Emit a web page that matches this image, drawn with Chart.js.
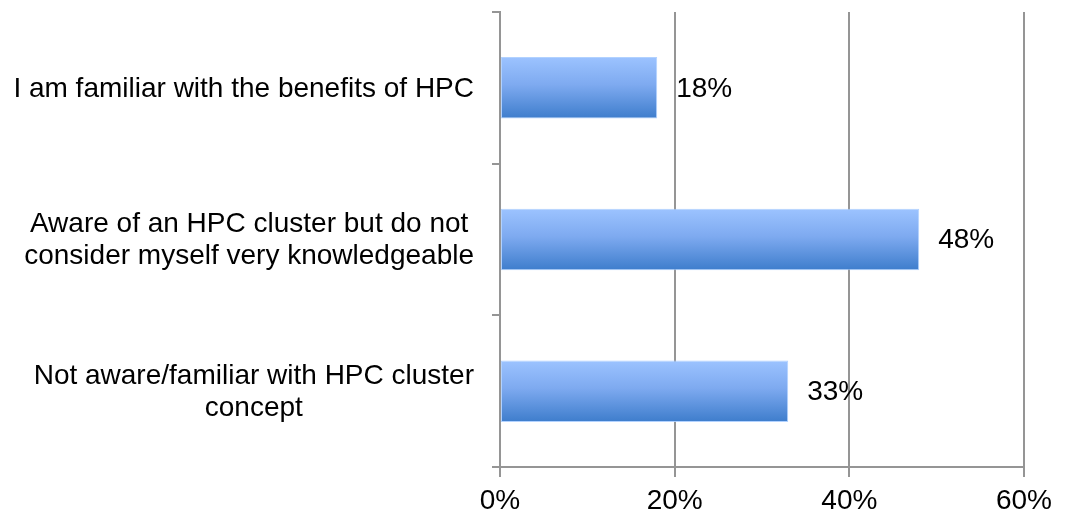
<!DOCTYPE html>
<html>
<head>
<meta charset="utf-8">
<style>
  html, body { margin: 0; padding: 0; background: #fff; }
  #wrap { width: 1066px; height: 515px; position: relative; }
</style>
<script src="https://cdn.jsdelivr.net/npm/chart.js@4/dist/chart.umd.min.js"></script>
</head>
<body>
<div id="wrap"><canvas id="c" width="1066" height="515"></canvas></div>
<script>
const categories = [
  "I am familiar with the benefits of HPC",
  ["Aware of an HPC cluster but do not", "consider myself very knowledgeable"],
  ["Not aware/familiar with HPC cluster", "concept"]
];
const values = [18, 48, 33];
const xTicks = [0, 20, 40, 60];

const FONT = "'Liberation Sans', Arial, sans-serif";
const GRID = '#959595';

function barGradient(ctx) {
  const chart = ctx.chart;
  const ys = chart.scales && chart.scales.y;
  if (!chart.chartArea || !ys || ctx.dataIndex === undefined) return '#6a9ee8';
  const c = ys.getPixelForValue(ctx.dataIndex);
  const half = (ys.height / categories.length) * 0.405 / 2;
  const g = chart.ctx.createLinearGradient(0, c - half, 0, c + half);
  g.addColorStop(0, '#9cc3ff');
  g.addColorStop(0.45, '#7eaaf0');
  g.addColorStop(1, '#3e7dcc');
  return g;
}

// Value labels to the right of each bar
const valueLabels = {
  id: 'valueLabels',
  afterDatasetsDraw(chart) {
    const ctx = chart.ctx;
    const meta = chart.getDatasetMeta(0);
    ctx.save();
    ctx.font = '28px ' + FONT;
    ctx.fillStyle = '#000';
    ctx.textAlign = 'left';
    ctx.textBaseline = 'middle';
    meta.data.forEach((el, i) => {
      ctx.fillText(values[i] + '%', el.x + 19, el.y + 1);
    });
    ctx.restore();
  }
};

// Category labels: each block centred on its own widest line, right edge at a fixed gap from the axis
const categoryLabels = {
  id: 'categoryLabels',
  afterDraw(chart) {
    const ctx = chart.ctx;
    const ys = chart.scales.y;
    const lineH = 32;
    const rightEdge = ys.right - 26;
    ctx.save();
    ctx.font = '28px ' + FONT;
    ctx.fillStyle = '#000';
    ctx.textAlign = 'center';
    ctx.textBaseline = 'middle';
    categories.forEach((lab, i) => {
      const lines = Array.isArray(lab) ? lab : [lab];
      const widest = Math.max(...lines.map(l => ctx.measureText(l).width));
      const cx = rightEdge - widest / 2;
      const cy = ys.getPixelForValue(i) + 1;
      const top = cy - (lines.length - 1) * lineH / 2;
      lines.forEach((l, k) => ctx.fillText(l, cx, top + k * lineH));
    });
    ctx.restore();
  }
};

new Chart(document.getElementById('c'), {
  type: 'bar',
  data: {
    labels: categories,
    datasets: [{
      data: values,
      backgroundColor: barGradient,
      borderColor: 'rgba(170,205,255,0.9)',
      borderWidth: 1,
      borderSkipped: false,
      categoryPercentage: 1,
      barPercentage: 0.405
    }]
  },
  options: {
    indexAxis: 'y',
    responsive: false,
    animation: false,
    devicePixelRatio: 1,
    layout: { padding: { top: 12, right: 42, left: 0, bottom: 0 } },
    plugins: { legend: { display: false }, tooltip: { enabled: false } },
    scales: {
      x: {
        min: 0, max: 60,
        afterBuildTicks(scale) { scale.ticks = xTicks.map(v => ({ value: v })); },
        afterFit(scale) { scale.height = 48; scale.paddingLeft = 0; scale.paddingRight = 0; },
        grid: { color: GRID, lineWidth: 2, drawOnChartArea: true, drawTicks: true, tickLength: 10 },
        border: { display: true, color: GRID, width: 2 },
        ticks: {
          color: '#000',
          font: { family: FONT, size: 28 },
          padding: 7,
          maxRotation: 0,
          callback: v => v + '%'
        }
      },
      y: {
        afterFit(scale) { scale.width = 500; scale.paddingTop = 0; scale.paddingBottom = 0; },
        grid: { color: GRID, lineWidth: 2, drawOnChartArea: false, drawTicks: true, tickLength: 8, offset: true },
        border: { display: true, color: GRID, width: 2 },
        ticks: { display: false, autoSkip: false }
      }
    }
  },
  plugins: [valueLabels, categoryLabels]
});
</script>
</body>
</html>
